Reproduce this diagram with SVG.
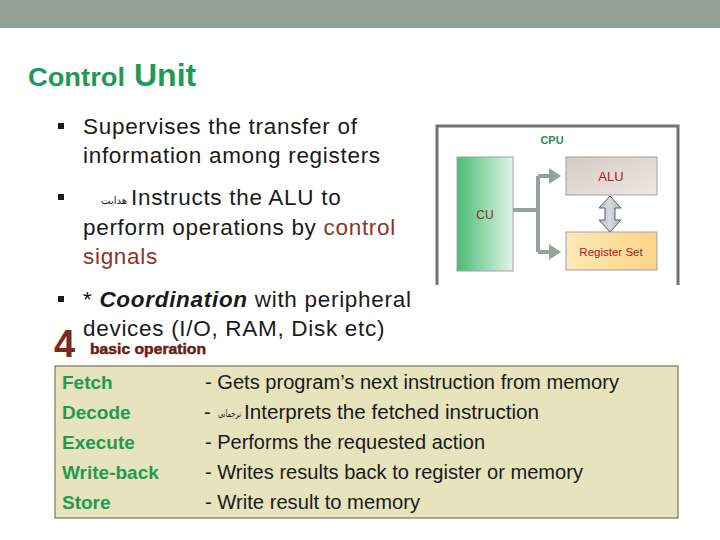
<svg xmlns="http://www.w3.org/2000/svg" width="720" height="540" viewBox="0 0 720 540">
<defs>
<style>
.body{font-family:"Liberation Sans",Arial,sans-serif;font-size:22.5px;fill:#1a1a1a;letter-spacing:0.7px}
.red{fill:#8b3526}
.ar{font-family:"DejaVu Sans","Noto Sans",sans-serif;font-size:10px;fill:#1a1a1a}
.lbl{font-family:"Liberation Sans",Arial,sans-serif;font-size:19px;font-weight:bold;fill:#1f9a4f}
.desc{font-family:"Liberation Sans",Arial,sans-serif;font-size:20px;fill:#1a1a1a}
.small{font-family:"Liberation Sans",Arial,sans-serif;text-anchor:middle}
.bullet{fill:#1a1a1a}
.conn{fill:none;stroke:#97a39a;stroke-width:4}
.box{stroke:#a0a0a0;stroke-width:1}
</style>
<linearGradient id="gCU" x1="0" y1="0" x2="1" y2="0">
<stop offset="0" stop-color="#49bd76"/>
<stop offset="1" stop-color="#e3f4e8"/>
</linearGradient>
<linearGradient id="gALU" x1="0" y1="0" x2="1" y2="1">
<stop offset="0" stop-color="#d5cbc3"/>
<stop offset="1" stop-color="#efe7e1"/>
</linearGradient>
<linearGradient id="gREG" x1="0" y1="0" x2="1" y2="0">
<stop offset="0" stop-color="#fde8b6"/>
<stop offset="1" stop-color="#fbd487"/>
</linearGradient>
<linearGradient id="gDbl" x1="0" y1="0" x2="1" y2="0">
<stop offset="0" stop-color="#b8bcc2"/>
<stop offset="0.5" stop-color="#d8dbe0"/>
<stop offset="1" stop-color="#a9adb3"/>
</linearGradient>
<marker id="ah" markerWidth="4" markerHeight="4" refX="2.5" refY="2" orient="auto" markerUnits="strokeWidth">
<path d="M0,0 L3,2 L0,4 Z" fill="#97a39a"/>
</marker>
</defs>
<rect x="0" y="0" width="720" height="540" fill="#ffffff"/>
<rect x="0" y="0" width="720" height="28" fill="#92a096"/>

<g id="title">
<text x="28" y="86" font-family="Liberation Sans, Arial, sans-serif" font-weight="bold" fill="#1f9a55"><tspan font-size="25" textLength="97" lengthAdjust="spacingAndGlyphs">Control</tspan><tspan font-size="32" x="134">Unit</tspan></text>
</g>

<g id="bullets">
<rect class="bullet" x="58" y="123" width="6" height="6"/>
<text class="body" x="83" y="134">Supervises the transfer of</text>
<text class="body" x="83" y="163">information among registers</text>
<rect class="bullet" x="58" y="194" width="6" height="6"/>
<text class="ar" x="127" y="204" text-anchor="end">هدایت</text>
<text class="body" x="131" y="205">Instructs the ALU to</text>
<text class="body" x="83" y="235">perform operations by <tspan class="red">control</tspan></text>
<text class="body red" x="83" y="264">signals</text>
<rect class="bullet" x="58" y="296" width="6" height="6"/>
<text class="body" x="83" y="307">* <tspan font-weight="bold" font-style="italic">Coordination</tspan> with peripheral</text>
<text class="body" x="83" y="336">devices (I/O, RAM, Disk etc)</text>
</g>

<g id="heading4">
<text x="54" y="357" font-family="Liberation Sans, Arial, sans-serif" font-weight="bold" font-size="38" fill="#7a2a1e">4</text>
<text x="90" y="354" font-family="Liberation Sans, Arial, sans-serif" font-weight="bold" font-size="15" fill="#6b1d14" stroke="#6b1d14" stroke-width="0.5" textLength="116" lengthAdjust="spacingAndGlyphs">basic operation</text>
</g>

<g id="cpu">
<path d="M437,285 V126 H678 V285" fill="none" stroke="#6f7670" stroke-width="3"/>
<text class="small" x="552" y="144" font-size="11" font-weight="bold" fill="#2a8a5a">CPU</text>
</g>
<g id="cu">
<rect class="box" x="457" y="157" width="56" height="114" fill="url(#gCU)"/>
<text class="small" x="485" y="219" font-size="12" fill="#8b2b1b">CU</text>
</g>
<g id="alu">
<rect class="box" x="566" y="157" width="91" height="38" fill="url(#gALU)"/>
<text class="small" x="611" y="181" font-size="13" fill="#b02222">ALU</text>
</g>
<g id="regset">
<rect class="box" x="566" y="232" width="91" height="38" fill="url(#gREG)"/>
<text class="small" x="611" y="256" font-size="11.5" fill="#a52020">Register Set</text>
</g>

<g id="connectors">
<path class="conn" d="M513,210 H538"/>
<path class="conn" d="M538,176 V252"/>
<path class="conn" d="M538,176 H559" marker-end="url(#ah)"/>
<path class="conn" d="M538,252 H559" marker-end="url(#ah)"/>
<path d="M610,196 L621,208 L615,208 L615,220 L621,220 L610,232 L599,220 L605,220 L605,208 L599,208 Z" fill="url(#gDbl)" stroke="#5a5e62" stroke-width="1"/>
</g>

<g id="table">
<rect x="55" y="366" width="623" height="152" fill="#e6e3bd" stroke="#7a775c" stroke-width="1.2"/>
<text class="lbl" x="62" y="389">Fetch</text>
<text class="lbl" x="62" y="419">Decode</text>
<text class="lbl" x="62" y="449">Execute</text>
<text class="lbl" x="62" y="479">Write-back</text>
<text class="lbl" x="62" y="509">Store</text>
<text class="desc" x="205" y="389" textLength="414" lengthAdjust="spacingAndGlyphs">- Gets program’s next instruction from memory</text>
<text class="desc" x="204" y="419">-</text>
<text class="ar" x="218" y="417" font-size="8" textLength="23" lengthAdjust="spacingAndGlyphs">ترجمانی</text>
<text class="desc" x="244" y="419" textLength="295" lengthAdjust="spacingAndGlyphs">Interprets the fetched instruction</text>
<text class="desc" x="205" y="449" textLength="280" lengthAdjust="spacingAndGlyphs">- Performs the requested action</text>
<text class="desc" x="205" y="479" textLength="378" lengthAdjust="spacingAndGlyphs">- Writes results back to register or memory</text>
<text class="desc" x="205" y="509" textLength="215" lengthAdjust="spacingAndGlyphs">- Write result to memory</text>
</g>
</svg>
